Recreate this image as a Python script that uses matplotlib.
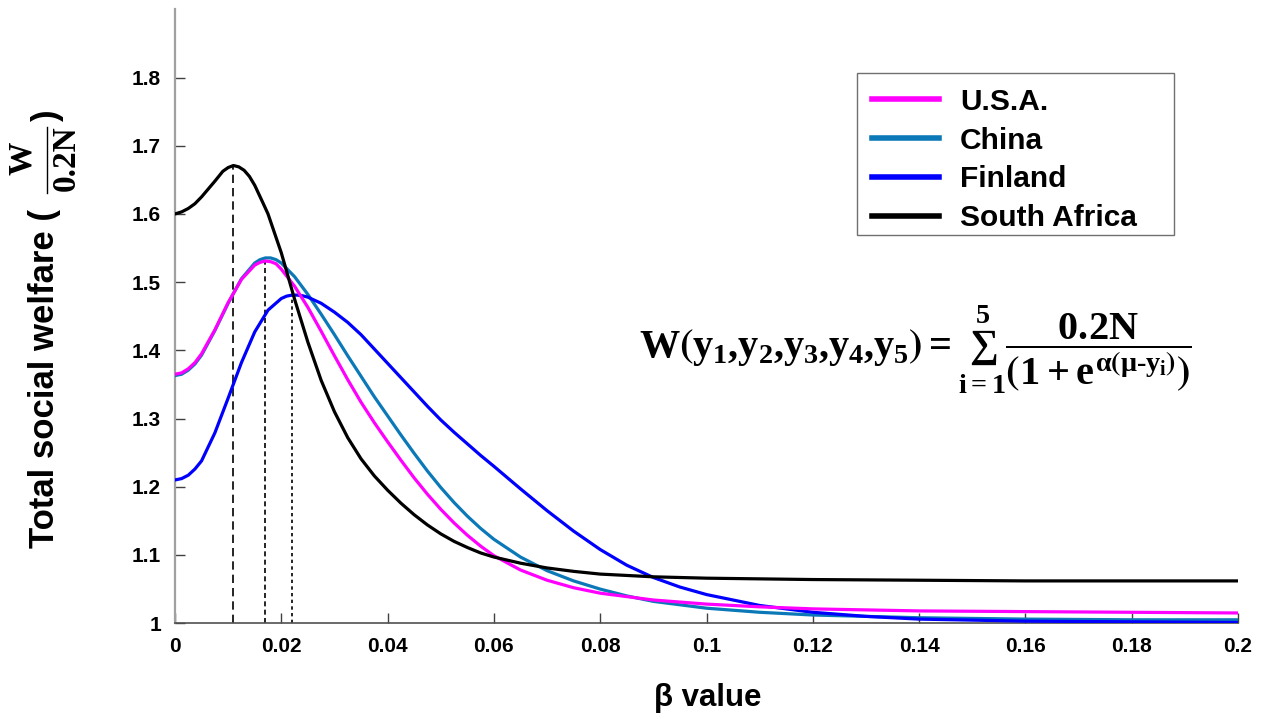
import matplotlib
matplotlib.use("Agg")
import matplotlib.pyplot as plt
from matplotlib.lines import Line2D
from matplotlib.patches import Rectangle

plt.rcParams['font.family'] = ['Liberation Sans', 'DejaVu Sans']
plt.rcParams['font.weight'] = 'bold'
plt.rcParams['mathtext.fontset'] = 'custom'
plt.rcParams['mathtext.rm'] = 'Liberation Serif:bold'
plt.rcParams['mathtext.it'] = 'Liberation Serif:bold'
plt.rcParams['mathtext.bf'] = 'Liberation Serif:bold'
plt.rcParams['mathtext.fallback'] = 'stix'

# beta values and welfare
usa_x = [0, 0.00125, 0.0025, 0.00375, 0.005, 0.0075, 0.010, 0.0125, 0.015, 0.016, 0.017, 0.018,
         0.019, 0.020, 0.0225, 0.025, 0.0275, 0.030, 0.0325, 0.035, 0.0375, 0.040, 0.0425, 0.045,
         0.0475, 0.050, 0.0525, 0.055, 0.0575, 0.060, 0.065, 0.070, 0.075, 0.080, 0.090, 0.100,
         0.110, 0.120, 0.140, 0.160, 0.180, 0.200]
usa_y = [1.365, 1.367, 1.373, 1.382, 1.395, 1.430, 1.470, 1.504, 1.525, 1.529, 1.531, 1.530,
         1.527, 1.519, 1.494, 1.463, 1.428, 1.392, 1.357, 1.324, 1.294, 1.266, 1.239, 1.213,
         1.189, 1.167, 1.147, 1.129, 1.113, 1.099, 1.078, 1.063, 1.052, 1.044, 1.034, 1.028,
         1.024, 1.021, 1.018, 1.017, 1.016, 1.015]

china_x = [0, 0.00125, 0.0025, 0.00375, 0.005, 0.0075, 0.010, 0.0125, 0.015, 0.016, 0.017, 0.018,
           0.019, 0.020, 0.0225, 0.025, 0.0275, 0.030, 0.0325, 0.035, 0.0375, 0.040, 0.0425, 0.045,
           0.0475, 0.050, 0.0525, 0.055, 0.0575, 0.060, 0.065, 0.070, 0.075, 0.080, 0.085, 0.090,
           0.100, 0.110, 0.120, 0.140, 0.160, 0.180, 0.200]
china_y = [1.363, 1.365, 1.371, 1.380, 1.393, 1.429, 1.469, 1.505, 1.528, 1.533, 1.5355, 1.5355,
           1.533, 1.528, 1.508, 1.482, 1.453, 1.423, 1.392, 1.362, 1.332, 1.304, 1.276, 1.249,
           1.223, 1.199, 1.177, 1.157, 1.139, 1.123, 1.097, 1.077, 1.062, 1.050, 1.040, 1.032,
           1.022, 1.016, 1.012, 1.008, 1.006, 1.005, 1.005]

finland_x = [0, 0.00125, 0.0025, 0.00375, 0.005, 0.0075, 0.010, 0.0125, 0.015, 0.0175, 0.020,
             0.021, 0.022, 0.023, 0.024, 0.025, 0.0275, 0.030, 0.0325, 0.035, 0.0375, 0.040,
             0.0425, 0.045, 0.0475, 0.050, 0.0525, 0.055, 0.0575, 0.060, 0.065, 0.070, 0.075,
             0.080, 0.085, 0.090, 0.095, 0.100, 0.110, 0.120, 0.130, 0.140, 0.160, 0.180, 0.200]
finland_y = [1.210, 1.212, 1.217, 1.226, 1.238, 1.279, 1.330, 1.382, 1.427, 1.459, 1.476,
             1.4795, 1.481, 1.481, 1.480, 1.478, 1.469, 1.456, 1.441, 1.423, 1.402, 1.381,
             1.360, 1.339, 1.318, 1.298, 1.280, 1.263, 1.246, 1.230, 1.197, 1.165, 1.135,
             1.108, 1.085, 1.067, 1.053, 1.042, 1.026, 1.016, 1.010, 1.006, 1.003, 1.002, 1.001]

sa_x = [0, 0.00125, 0.0025, 0.00375, 0.005, 0.0075, 0.009, 0.010, 0.011, 0.012, 0.013, 0.014,
        0.015, 0.0165, 0.0175, 0.020, 0.0225, 0.025, 0.0275, 0.030, 0.0325, 0.035, 0.0375, 0.040,
        0.0425, 0.045, 0.0475, 0.050, 0.0525, 0.055, 0.0575, 0.060, 0.065, 0.070, 0.075, 0.080,
        0.090, 0.100, 0.120, 0.140, 0.160, 0.200]
sa_y = [1.600, 1.603, 1.608, 1.615, 1.625, 1.648, 1.6625, 1.668, 1.671, 1.669, 1.664, 1.655,
        1.642, 1.617, 1.600, 1.543, 1.475, 1.412, 1.356, 1.310, 1.272, 1.241, 1.216, 1.195,
        1.176, 1.159, 1.144, 1.131, 1.120, 1.111, 1.103, 1.097, 1.088, 1.081, 1.076, 1.072,
        1.068, 1.066, 1.064, 1.063, 1.062, 1.062]

# optimum beta markers (dashed drop lines)
peak_x = [0.011, 0.017, 0.022]
peak_y = [1.671, 1.531, 1.481]
peak_styles = [(0, (5, 3)), (0, (3, 2)), (0, (2, 2))]

xticks = [0, 0.02, 0.04, 0.06, 0.08, 0.1, 0.12, 0.14, 0.16, 0.18, 0.2]
xtick_labels = ['0', '0.02', '0.04', '0.06', '0.08', '0.1', '0.12', '0.14', '0.16', '0.18', '0.2']
yticks = [1, 1.1, 1.2, 1.3, 1.4, 1.5, 1.6, 1.7, 1.8]
ytick_labels = ['1', '1.1', '1.2', '1.3', '1.4', '1.5', '1.6', '1.7', '1.8']

W, H = 1264, 719
fig = plt.figure(figsize=(W / 100, H / 100), dpi=100)
ax = fig.add_axes([175 / W, 1 - 623.2 / H, (1238 - 175) / W, (623.2 - 9.3) / H])

ax.plot(usa_x, usa_y, color='#ff00ff', lw=2.3, label='U.S.A.', zorder=4)
ax.plot(china_x, china_y, color='#0b78b8', lw=2.3, label='China', zorder=3)
ax.plot(finland_x, finland_y, color='#0000ff', lw=2.3, label='Finland', zorder=3.5)
ax.plot(sa_x, sa_y, color='black', lw=2.3, label='South Africa', zorder=5)

for px, py, ls in zip(peak_x, peak_y, peak_styles):
    ax.plot([px, px], [1, py], color='black', lw=1.2, linestyle=ls, zorder=2)

ax.set_xlim(0, 0.2)
ax.set_ylim(1, 1.9)
ax.set_xticks(xticks)
ax.set_xticklabels(xtick_labels)
ax.set_yticks(yticks)
ax.set_yticklabels(ytick_labels)
ax.tick_params(direction='in', length=7.2, width=1, color='#404040', labelsize=15, pad=10)

for s in ['top', 'right']:
    ax.spines[s].set_visible(False)
ax.spines['left'].set_color('#a0a0a0')
ax.spines['left'].set_linewidth(1.6)
ax.spines['bottom'].set_color('#505050')
ax.spines['bottom'].set_linewidth(1.2)

leg = ax.legend(loc='upper left', bbox_to_anchor=((857 - 175) / 1063, (623.2 - 73) / 613.9),
                borderaxespad=0, fontsize=21.5, frameon=False,
                handlelength=2.25, handletextpad=0.7, labelspacing=0.36, borderpad=0.5)
for l in leg.get_lines():
    l.set_linewidth(4)
# legend frame drawn to the reference box size
fig.add_artist(Rectangle((857 / W, 1 - 235 / H), (1174 - 857) / W, (235 - 73) / H,
                         transform=fig.transFigure, facecolor='none', edgecolor='#707070', lw=1.0))

# formula
formula = (r'$W\left(y_{1}{,}y_{2}{,}y_{3}{,}y_{4}{,}y_{5}\right)=\sum_{i=1}^{5}'
           r'\dfrac{0.2N}{\left(1+e^{\alpha\left(\mu\text{-}y_{i}\right)}\right)}$')
fig.text(915 / W, 1 - 350 / H, formula, fontsize=29, ha='center', va='center')

# axis labels
fig.text(708 / W, 1 - 698 / H, 'β value', fontsize=22.5, weight='bold', ha='center', va='center')
fig.text(45 / W, 1 - 379 / H, 'Total social welfare (', fontsize=25, weight='bold',
         rotation=90, ha='center', va='center')
fig.text(47 / W, 1 - 115 / H, ')', fontsize=25, weight='bold', rotation=90, ha='center', va='center')
fig.text(23 / W, 1 - 158 / H, 'W', fontsize=24, weight='bold', family='Liberation Serif',
         rotation=90, ha='center', va='center')
fig.text(66 / W, 1 - 158 / H, '0.2N', fontsize=24, weight='bold', family='Liberation Serif',
         rotation=90, ha='center', va='center')
fig.add_artist(Line2D([47 / W, 47 / W], [1 - 127 / H, 1 - 193 / H], color='black', lw=1.0,
                      transform=fig.transFigure))

fig.savefig('out.png', dpi=100)
